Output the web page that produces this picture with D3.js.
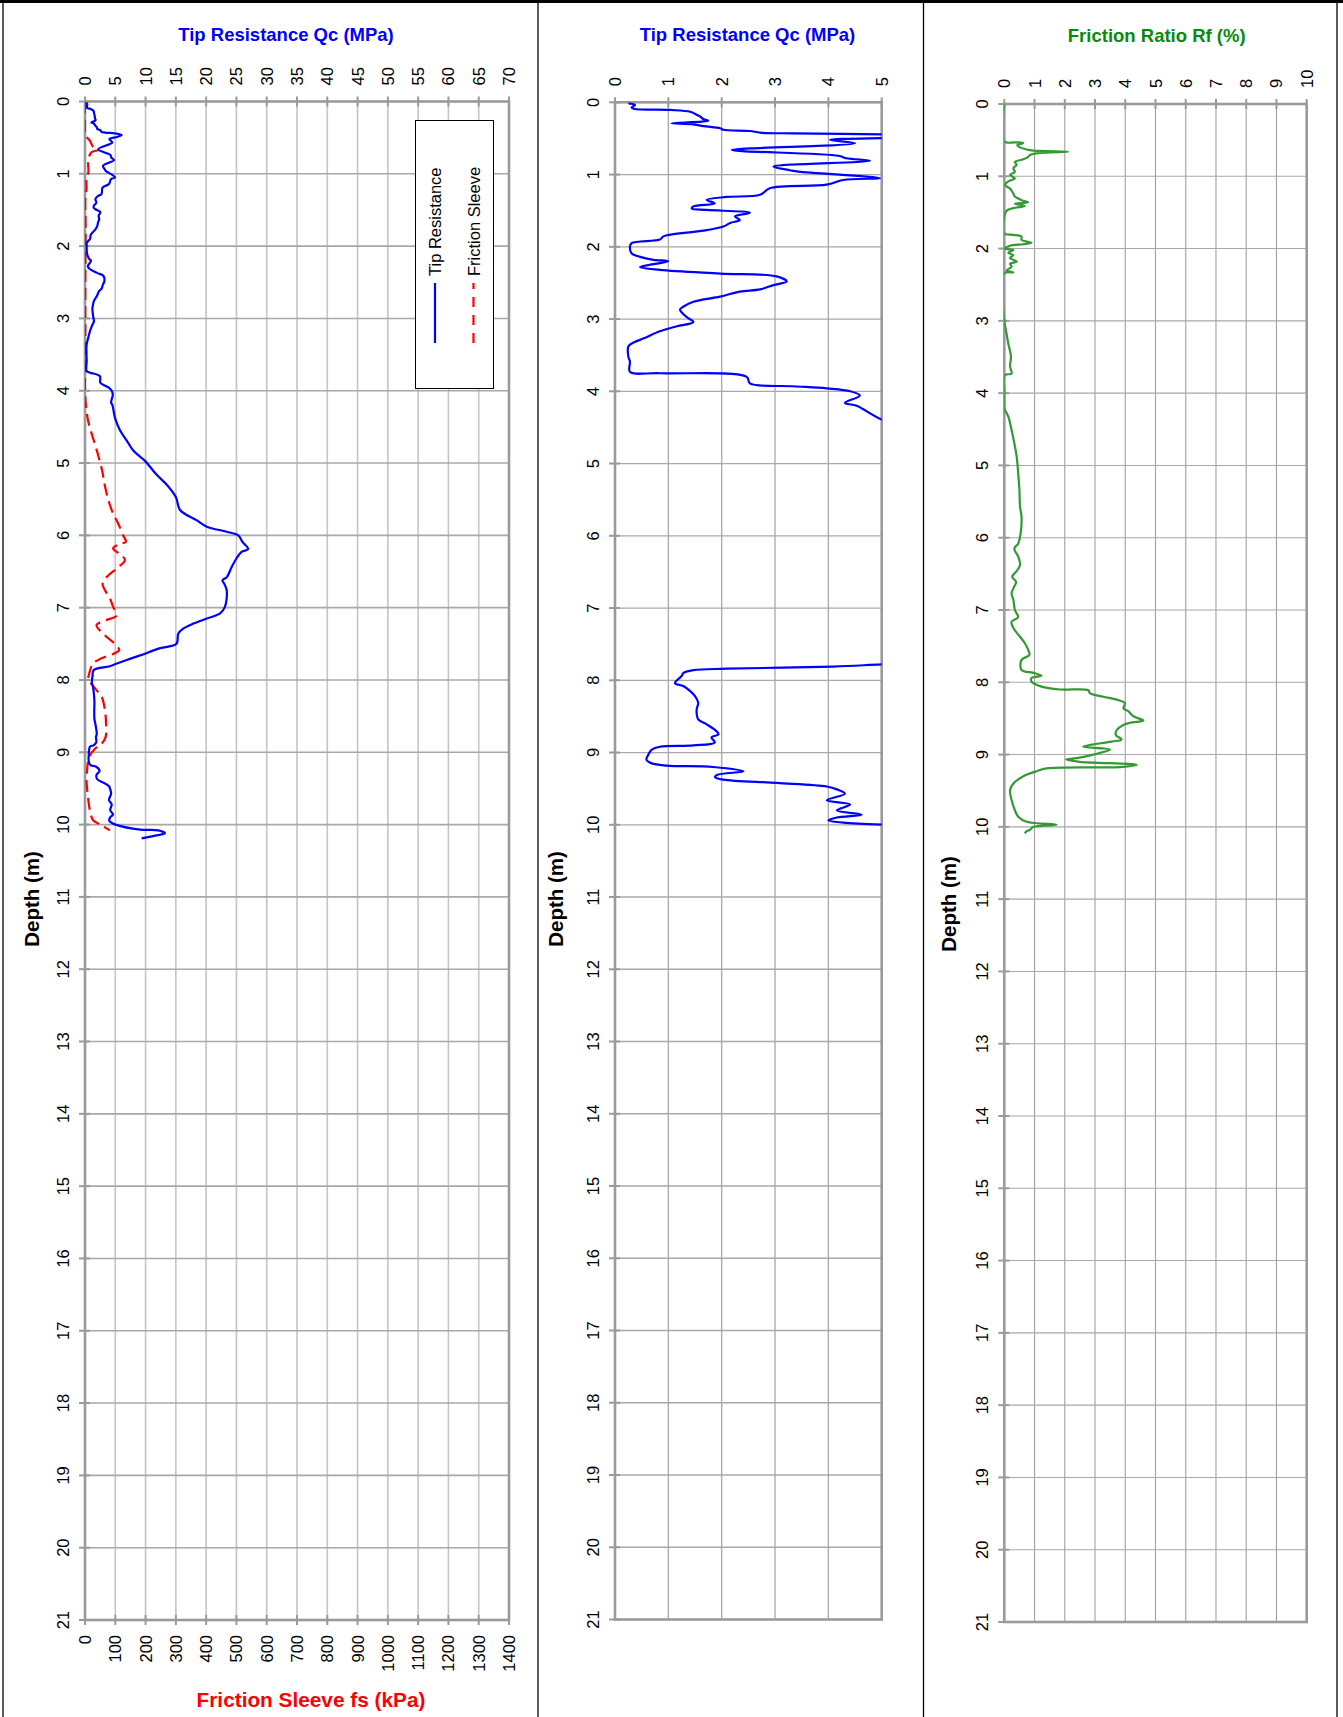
<!DOCTYPE html>
<html>
<head>
<meta charset="utf-8">
<script src="https://cdnjs.cloudflare.com/ajax/libs/d3/7.8.5/d3.min.js"></script>
<style>
  body { margin: 0; background: #fff; }
  svg { display: block; font-family: "Liberation Sans", Arial, sans-serif; }
</style>
</head>
<body>
<svg id="chart" width="1343" height="1717"></svg>
<script>
const qcDepth = [0.014,0.037,0.07,0.09,0.106,0.13,0.16,0.198,0.235,0.254,0.268,0.29,0.305,0.33,0.36,0.38,0.397,0.42,0.43,0.443,0.465,0.49,0.52,0.567,0.66,0.74,0.775,0.81,0.89,0.94,0.96,1.05,1.075,1.14,1.19,1.28,1.31,1.35,1.4,1.44,1.47,1.49,1.53,1.58,1.63,1.67,1.72,1.77,1.84,1.86,1.9,1.95,2.0,2.09,2.14,2.18,2.2,2.28,2.32,2.37,2.41,2.48,2.53,2.59,2.62,2.69,2.76,2.83,2.87,2.97,3.04,3.1,3.17,3.27,3.34,3.38,3.52,3.59,3.73,3.75,3.8,3.89,3.93,3.96,4.0,4.06,4.16,4.2,4.39,4.55,4.69,4.83,4.97,5.16,5.3,5.47,5.65,5.79,5.88,5.95,6.0,6.09,6.19,6.23,6.32,6.44,6.58,6.62,6.67,6.76,6.99,7.08,7.15,7.22,7.29,7.36,7.5,7.56,7.66,7.72,7.78,7.81,7.84,7.86,7.9,7.94,8.04,8.08,8.15,8.22,8.31,8.41,8.54,8.61,8.71,8.75,8.79,8.86,8.9,8.92,8.96,9.03,9.1,9.15,9.18,9.2,9.26,9.31,9.34,9.375,9.42,9.47,9.51,9.57,9.66,9.72,9.8,9.86,9.9,9.94,9.97,10.0,10.07,10.08,10.12,10.15,10.19];
const qcValue = [0.25,0.375,0.31,0.35,1.03,1.41,1.5,1.6,1.66,1.75,1.63,1.06,1.47,1.66,1.97,2.03,2.53,2.72,3.34,5.03,6.05,5.3,4.03,4.5,2.19,4.19,4.34,4.78,2.97,3.28,3.44,4.97,4.28,3.97,2.9,2.72,2.09,1.72,1.87,1.47,1.44,1.72,2.53,2.25,2.34,2.16,2.03,1.72,0.97,0.9,0.84,0.31,0.28,0.31,0.47,0.72,1.0,0.47,0.84,1.97,3.03,3.22,2.97,2.72,2.34,1.97,1.47,1.28,1.22,1.34,1.47,1.16,0.84,0.53,0.31,0.25,0.25,0.28,0.28,0.84,2.47,2.53,3.34,3.97,4.41,4.59,4.31,4.53,5.0,5.8,6.9,8.0,9.9,11.8,13.5,15.0,15.7,18.4,20.1,23.4,25.3,26.0,26.95,25.85,25.0,24.2,23.4,22.7,23.0,23.4,23.1,22.3,20.1,17.9,16.2,15.4,15.1,12.4,9.1,7.0,5.03,4.09,2.09,1.47,1.28,1.25,1.125,1.28,1.41,1.5,1.56,1.53,1.56,1.72,1.91,1.94,1.81,1.87,1.47,0.84,0.69,0.625,0.59,0.69,0.97,1.84,2.41,1.91,1.875,2.03,3.03,3.97,4.16,4.31,3.97,4.41,4.16,4.625,4.16,4.0,4.28,5.03,9.1,12.1,13.2,11.8,9.35];

const fsDepth = [0.0,0.45,0.49,0.54,0.63,0.67,0.7,0.8,0.98,1.07,1.21,1.35,1.7,2.5,3.5,4.0,4.2,4.43,4.66,4.9,5.13,5.24,5.51,5.7,5.84,6.0,6.09,6.12,6.18,6.26,6.34,6.46,6.58,6.67,6.76,6.87,6.99,7.11,7.17,7.24,7.34,7.44,7.52,7.59,7.64,7.7,7.77,7.91,8.0,8.06,8.14,8.23,8.42,8.56,8.79,8.88,8.95,9.06,9.2,9.39,9.62,9.8,9.94,10.01,10.08];
const fsValue = [0,1,5,16,27,44,22,11,11,5,5,1,2,1,1,0,3,11,27,44,58,62,77,93,110,126,135,115,93,115,132,104,71,58,66,82,93,104,71,38,55,82,104,113,93,55,27,14,11,22,38,55,66,69,68,55,33,14,8,5,10,16,27,55,82];

const rfDepth = [0.0,0.52,0.53,0.54,0.57,0.6,0.63,0.645,0.66,0.68,0.705,0.73,0.765,0.8,0.84,0.89,0.94,0.98,1.03,1.07,1.12,1.17,1.24,1.28,1.33,1.36,1.38,1.41,1.44,1.475,1.56,1.79,1.81,1.835,1.88,1.92,1.94,1.96,2.0,2.02,2.06,2.09,2.13,2.18,2.21,2.25,2.3,2.33,2.34,2.99,3.13,3.31,3.49,3.63,3.73,3.75,3.96,4.19,4.23,4.32,4.51,4.69,4.88,5.11,5.34,5.57,5.71,5.94,6.08,6.15,6.26,6.38,6.47,6.54,6.61,6.7,6.77,6.86,7.0,7.1,7.16,7.25,7.37,7.46,7.55,7.62,7.69,7.83,7.87,7.91,7.94,7.99,8.06,8.1,8.11,8.15,8.2,8.24,8.29,8.36,8.4,8.47,8.53,8.56,8.59,8.66,8.73,8.79,8.82,8.86,8.89,8.93,9.0,9.05,9.07,9.1,9.14,9.17,9.19,9.23,9.3,9.4,9.49,9.63,9.77,9.86,9.93,9.97,10.0,10.04,10.06,10.09];
const rfValue = [0,0,0.35,0.63,0.43,0.52,0.74,0.96,2.12,1.12,0.85,0.79,0.63,0.35,0.41,0.3,0.35,0.19,0.35,0.13,0.02,0.19,0.3,0.35,0.57,0.79,0.35,0.68,0.3,0.08,0,0,0.3,0.57,0.57,0.9,0.63,0.19,0.02,0.3,0.13,0.3,0.19,0.41,0.19,0.24,0.08,0.3,0,0,0.055,0.13,0.22,0.19,0.24,0.02,0,0,0.02,0.13,0.24,0.33,0.41,0.46,0.5,0.52,0.57,0.54,0.46,0.33,0.46,0.52,0.39,0.26,0.39,0.3,0.24,0.3,0.35,0.46,0.24,0.3,0.52,0.68,0.79,0.83,0.57,0.57,0.96,1.23,0.9,0.9,1.23,1.84,2.78,2.83,3.27,3.72,3.99,3.94,4.1,4.27,4.6,4.16,3.94,3.72,3.69,3.88,3.55,2.94,2.61,3.5,2.94,2.39,2.04,2.5,4.38,3.94,1.4,1.07,0.63,0.3,0.19,0.24,0.35,0.46,0.74,1.73,0.96,0.85,0.74,0.68];

const depthTicks = [0,1,2,3,4,5,6,7,8,9,10,11,12,13,14,15,16,17,18,19,20,21];
const qcTicks = [0,5,10,15,20,25,30,35,40,45,50,55,60,65,70];
const fsTicks = [0,100,200,300,400,500,600,700,800,900,1000,1100,1200,1300,1400];
const qcZoomTicks = [0,1,2,3,4,5];
const rfTicks = [0,1,2,3,4,5,6,7,8,9,10];

const qcRows = qcDepth.map((d, i) => ({depth: d, v: qcValue[i]}));
const fsRows = fsDepth.map((d, i) => ({depth: d, v: fsValue[i]}));
const rfRows = rfDepth.map((d, i) => ({depth: d, v: rfValue[i]}));

const svg = d3.select("#chart");
const AXIS = "#9a9a9a";
const TICK_FONT = 16.5;

// panel frames
svg.append("line").attr("x1", 0).attr("x2", 1343).attr("y1", 1.5).attr("y2", 1.5)
  .attr("stroke", "#000").attr("stroke-width", 3);
[3, 538, 923.5, 1337].forEach(x => {
  svg.append("line").attr("x1", x).attr("x2", x).attr("y1", 0).attr("y2", 1717)
    .attr("stroke", "#000").attr("stroke-width", 1.3);
});

function panel(cfg) {
  const g = svg.append("g");
  const x = d3.scaleLinear().domain(cfg.domain).range([cfg.left, cfg.right]);
  const y = d3.scaleLinear().domain([0, 21]).range([cfg.top, cfg.bottom]);

  // grid
  g.selectAll(".vg").data(cfg.ticks.slice(1, -1)).enter().append("line")
    .attr("x1", d => x(d)).attr("x2", d => x(d))
    .attr("y1", cfg.top).attr("y2", cfg.bottom)
    .attr("stroke", cfg.gridColor).attr("stroke-width", cfg.gridWidth);
  g.selectAll(".hg").data(depthTicks.slice(1, -1)).enter().append("line")
    .attr("x1", cfg.left).attr("x2", cfg.right)
    .attr("y1", d => y(d)).attr("y2", d => y(d))
    .attr("stroke", cfg.hGridColor).attr("stroke-width", cfg.gridWidth);

  // ticks (crossing)
  g.selectAll(".tt").data(cfg.ticks).enter().append("line")
    .attr("x1", d => x(d)).attr("x2", d => x(d))
    .attr("y1", cfg.top - 5).attr("y2", cfg.top + 5)
    .attr("stroke", AXIS).attr("stroke-width", 2);
  g.selectAll(".lt").data(depthTicks).enter().append("line")
    .attr("x1", cfg.left - 6).attr("x2", cfg.left + 5)
    .attr("y1", d => y(d)).attr("y2", d => y(d))
    .attr("stroke", AXIS).attr("stroke-width", 2);
  if (cfg.bottomTicks) {
    const xb = d3.scaleLinear().domain(cfg.bottomDomain).range([cfg.left, cfg.right]);
    g.selectAll(".bt").data(cfg.bottomTicks).enter().append("line")
      .attr("x1", d => xb(d)).attr("x2", d => xb(d))
      .attr("y1", cfg.bottom - 5).attr("y2", cfg.bottom + 5)
      .attr("stroke", AXIS).attr("stroke-width", 2);
    g.selectAll(".bl").data(cfg.bottomTicks).enter().append("text")
      .attr("transform", d => `translate(${xb(d)},${cfg.bottom + 15}) rotate(-90)`)
      .attr("text-anchor", "end").attr("dominant-baseline", "central")
      .attr("font-size", TICK_FONT).text(d => d);
  }

  // plot border / axes
  g.append("rect").attr("x", cfg.left).attr("y", cfg.top)
    .attr("width", cfg.right - cfg.left).attr("height", cfg.bottom - cfg.top)
    .attr("fill", "none").attr("stroke", AXIS).attr("stroke-width", 2.6);

  // tick labels
  g.selectAll(".tl").data(cfg.ticks).enter().append("text")
    .attr("transform", d => `translate(${x(d)},${cfg.top - 16}) rotate(-90)`)
    .attr("text-anchor", "start").attr("dominant-baseline", "central")
    .attr("font-size", TICK_FONT).text(d => d);
  g.selectAll(".dl").data(depthTicks).enter().append("text")
    .attr("transform", d => `translate(${cfg.left - 22},${y(d)}) rotate(-90)`)
    .attr("text-anchor", "middle").attr("dominant-baseline", "central")
    .attr("font-size", TICK_FONT).text(d => d);

  // titles
  g.append("text").attr("x", cfg.titleX).attr("y", cfg.titleY)
    .attr("text-anchor", "middle").attr("font-weight", "bold").attr("font-size", 18.5)
    .attr("fill", cfg.titleColor).text(cfg.title);
  g.append("text")
    .attr("transform", `translate(${cfg.depthX},${cfg.depthY}) rotate(-90)`)
    .attr("text-anchor", "middle").attr("dominant-baseline", "central")
    .attr("font-weight", "bold").attr("font-size", 20.5).text("Depth (m)");

  const clipId = "clip" + cfg.id;
  svg.append("clipPath").attr("id", clipId).append("rect")
    .attr("x", cfg.left).attr("y", cfg.top)
    .attr("width", cfg.right - cfg.left).attr("height", cfg.bottom - cfg.top);
  const plot = g.append("g").attr("clip-path", `url(#${clipId})`);
  return {x, y, plot};
}

function drawLine(p, rows, xs, color, dash) {
  const line = d3.line()
    .x(d => xs(d.v)).y(d => p.y(d.depth))
    .curve(d3.curveCatmullRom.alpha(0.5));
  p.plot.append("path").datum(rows)
    .attr("d", line).attr("fill", "none")
    .attr("stroke", color).attr("stroke-width", 2.2)
    .attr("stroke-linejoin", "round")
    .attr("stroke-dasharray", dash || null);
}

// panel 1: Qc and fs
const p1 = panel({id: 1, left: 85, right: 509, top: 101.5, bottom: 1620,
  domain: [0, 70], ticks: qcTicks, bottomDomain: [0, 1400], bottomTicks: fsTicks,
  gridColor: "#c4c4c4", hGridColor: "#a8a8a8", gridWidth: 1.6,
  title: "Tip Resistance Qc (MPa)", titleColor: "#0000ff", titleX: 286, titleY: 40.5,
  depthX: 31, depthY: 899});
const fsX = d3.scaleLinear().domain([0, 1400]).range([85, 509]);
drawLine(p1, fsRows, fsX, "#ff0000", "12,6");
drawLine(p1, qcRows, p1.x, "#0000ff");

svg.append("text").attr("x", 311).attr("y", 1707)
  .attr("text-anchor", "middle").attr("font-weight", "bold").attr("font-size", 20.8)
  .attr("fill", "#ff0000").text("Friction Sleeve fs (kPa)");

// legend
const lg = svg.append("g");
lg.append("rect").attr("x", 415.5).attr("y", 120.5).attr("width", 78).attr("height", 268)
  .attr("fill", "#fff").attr("stroke", "#000").attr("stroke-width", 1);
const legendItems = [
  {name: "Tip Resistance", color: "#0000ff", dash: null, x: 435},
  {name: "Friction Sleeve", color: "#ff0000", dash: "10,8", x: 473.5}
];
legendItems.forEach(it => {
  lg.append("line").attr("x1", it.x).attr("x2", it.x).attr("y1", 343).attr("y2", 283)
    .attr("stroke", it.color).attr("stroke-width", 2.2).attr("stroke-dasharray", it.dash);
  lg.append("text").attr("transform", `translate(${it.x},276) rotate(-90)`)
    .attr("text-anchor", "start").attr("dominant-baseline", "central")
    .attr("font-size", 16.5).text(it.name);
});

// panel 2: Qc zoomed
const p2 = panel({id: 2, left: 615, right: 881.7, top: 102.3, bottom: 1619.5,
  domain: [0, 5], ticks: qcZoomTicks,
  gridColor: "#a8a8a8", hGridColor: "#a8a8a8", gridWidth: 1.3,
  title: "Tip Resistance Qc (MPa)", titleColor: "#0000ff", titleX: 747.5, titleY: 40.7,
  depthX: 555, depthY: 899});
drawLine(p2, qcRows, p2.x, "#0000ff");

// panel 3: friction ratio
const p3 = panel({id: 3, left: 1004.3, right: 1306.7, top: 104, bottom: 1622,
  domain: [0, 10], ticks: rfTicks,
  gridColor: "#a0a0a0", hGridColor: "#a8a8a8", gridWidth: 1.1,
  title: "Friction Ratio Rf (%)", titleColor: "#0a8a0a", titleX: 1156.7, titleY: 42.3,
  depthX: 948.5, depthY: 904});
drawLine(p3, rfRows, p3.x, "#339933");
</script>
</body>
</html>
